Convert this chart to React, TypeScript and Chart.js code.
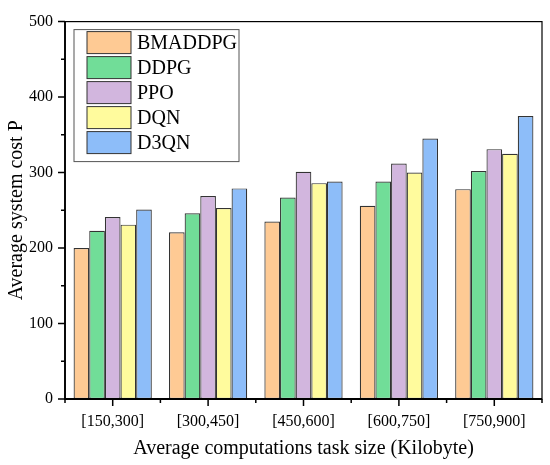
import { useEffect, useRef } from 'react';
import { Chart, registerables } from 'chart.js';

Chart.register(...registerables);

const categories = ['[150,300]', '[300,450]', '[450,600]', '[600,750]', '[750,900]'];
const seriesNames = ['BMADDPG', 'DDPG', 'PPO', 'DQN', 'D3QN'];
const bmaddpg = [200, 221, 235, 256, 278];
const ddpg = [223, 246, 267, 288, 302];
const ppo = [241, 269, 301, 312, 331];
const dqn = [231, 253, 286, 300, 325];
const d3qn = [251, 279, 288, 345, 375];
const yTicks = [0, 100, 200, 300, 400, 500];
const fills = ['#FECA94', '#71DD98', '#D2B6DE', '#FFFB9D', '#8DBDF9'];

const serif = "'Liberation Serif', 'Times New Roman', serif";

// outward major/minor ticks plus the box around the plot
const framePlugin = {
  id: 'frame',
  afterDraw(chart: any) {
    const { ctx, chartArea: a, scales } = chart;
    const xs = scales.x;
    const ys = scales.y;
    ctx.save();
    ctx.strokeStyle = '#000';
    ctx.lineWidth = 1.2;
    ctx.strokeRect(a.left, a.top, a.right - a.left, a.bottom - a.top);
    ctx.lineWidth = 1.8;
    ctx.beginPath();
    ctx.moveTo(a.left, a.top);
    ctx.lineTo(a.left, a.bottom);
    ctx.lineTo(a.right, a.bottom);
    ctx.stroke();

    ctx.lineWidth = 1.5;
    ctx.beginPath();
    yTicks.forEach((v, i) => {
      const py = ys.getPixelForValue(v);
      ctx.moveTo(a.left, py);
      ctx.lineTo(a.left - 7, py);
      if (i < yTicks.length - 1) {
        const my = ys.getPixelForValue((v + yTicks[i + 1]) / 2);
        ctx.moveTo(a.left, my);
        ctx.lineTo(a.left - 4, my);
      }
    });
    categories.forEach((_, i) => {
      const px = xs.getPixelForValue(i);
      ctx.moveTo(px, a.bottom);
      ctx.lineTo(px, a.bottom + 7);
      const half = (xs.right - xs.left) / categories.length / 2;
      ctx.moveTo(px - half, a.bottom);
      ctx.lineTo(px - half, a.bottom + 4);
      if (i === categories.length - 1) {
        ctx.moveTo(px + half, a.bottom);
        ctx.lineTo(px + half, a.bottom + 4);
      }
    });
    ctx.stroke();
    ctx.restore();
  },
};

// boxed legend inside the plot, top-left
const legendPlugin = {
  id: 'boxLegend',
  afterDraw(chart: any) {
    const { ctx, chartArea: a } = chart;
    const bx = a.left + 9;
    const by = a.top + 8;
    ctx.save();
    ctx.strokeStyle = '#555';
    ctx.lineWidth = 1;
    ctx.strokeRect(bx, by, 165, 132);
    ctx.font = `20px ${serif}`;
    ctx.textBaseline = 'middle';
    ctx.fillStyle = '#000';
    chart.data.datasets.forEach((ds: any, i: number) => {
      const sy = by + 2 + i * 25;
      ctx.fillStyle = ds.backgroundColor;
      ctx.fillRect(bx + 13, sy, 44, 22);
      ctx.strokeStyle = '#333';
      ctx.strokeRect(bx + 13, sy, 44, 22);
      ctx.fillStyle = '#000';
      ctx.fillText(ds.label, bx + 63, sy + 12);
    });
    ctx.restore();
  },
};

export default function App() {
  const canvasRef = useRef<HTMLCanvasElement>(null);
  const chartRef = useRef<Chart | null>(null);

  useEffect(() => {
    if (!canvasRef.current) return;
    if (chartRef.current) chartRef.current.destroy();
    const ctx = canvasRef.current.getContext('2d');
    if (!ctx) return;

    const values = [bmaddpg, ddpg, ppo, dqn, d3qn];

    chartRef.current = new Chart(ctx, {
      type: 'bar',
      data: {
        labels: categories,
        datasets: seriesNames.map((name, i) => ({
          label: name,
          data: values[i],
          backgroundColor: fills[i],
          borderColor: '#333',
          borderWidth: 1.2,
          borderSkipped: false,
          categoryPercentage: 0.82,
          barPercentage: 1,
        })),
      },
      options: {
        responsive: true,
        maintainAspectRatio: false,
        animation: false,
        layout: { padding: { top: 14, right: 8, left: 0, bottom: 0 } },
        plugins: {
          legend: { display: false },
          tooltip: { enabled: false },
        },
        scales: {
          x: {
            grid: { display: false, drawTicks: false },
            border: { display: false },
            ticks: { color: '#000', font: { family: serif, size: 16 }, padding: 13 },
            title: {
              display: true,
              text: 'Average computations task size (Kilobyte)',
              color: '#000',
              font: { family: serif, size: 20 },
              padding: { top: 0, bottom: 4 },
            },
            afterFit: (s: any) => {
              s.height = 66;
            },
          },
          y: {
            min: 0,
            max: 500,
            grid: { display: false, drawTicks: false },
            border: { display: false },
            afterBuildTicks: (s: any) => {
              s.ticks = yTicks.map((v) => ({ value: v }));
            },
            ticks: { color: '#000', font: { family: serif, size: 16 }, padding: 12 },
            title: {
              display: true,
              text: 'Average system cost P',
              color: '#000',
              font: { family: serif, size: 20 },
              padding: { top: 5, bottom: 0 },
            },
            afterFit: (s: any) => {
              s.width = 65;
            },
          },
        },
      },
      plugins: [framePlugin, legendPlugin],
    });

    return () => {
      if (chartRef.current) chartRef.current.destroy();
    };
  }, []);

  return (
    <div style={{ position: 'fixed', left: 0, top: 0, width: 550, height: 465, background: '#fff' }}>
      <canvas ref={canvasRef} />
    </div>
  );
}
